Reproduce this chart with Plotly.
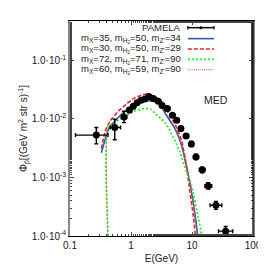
import plotly.graph_objects as go

# PAMELA antiproton data
pam_E = [0.270, 0.542, 0.767, 0.94, 1.09, 1.26, 1.46, 1.69, 1.96, 2.31, 2.80, 3.24, 3.94,
         4.78, 5.62, 6.58, 7.99, 9.75, 11.6, 14.7, 18.4, 24.7, 35.6]
pam_E_lo = [0.123, 0.456, 0.70, 0.87, 1.02, 1.18, 1.37, 1.58, 1.83, 2.15, 2.60, 3.02, 3.64,
            4.40, 5.20, 6.10, 7.30, 8.90, 10.6, 13.2, 16.3, 19.8, 27.2]
pam_E_hi = [0.419, 0.675, 0.85, 1.02, 1.18, 1.37, 1.58, 1.83, 2.15, 2.50, 3.02, 3.50, 4.30,
            5.20, 6.10, 7.10, 8.80, 10.6, 12.8, 16.3, 21.0, 30.8, 46.6]
pam_flux = [5.28e-3, 7.10e-3, 1.07e-2, 1.41e-2, 1.64e-2, 1.88e-2, 2.07e-2, 2.19e-2, 2.41e-2,
            2.23e-2, 1.99e-2, 1.69e-2, 1.50e-2, 1.15e-2, 9.44e-3, 6.82e-3, 5.09e-3, 3.73e-3,
            2.24e-3, 1.35e-3, 7.17e-4, 3.35e-4, 1.21e-4]
pam_flux_hi = [7.10e-3, 9.82e-3, 1.35e-2, 1.55e-2, 1.78e-2, 2.02e-2, 2.22e-2, 2.35e-2, 2.58e-2,
               2.39e-2, 2.13e-2, 1.81e-2, 1.61e-2, 1.24e-2, 1.02e-2, 7.40e-3, 5.55e-3, 4.10e-3,
               2.48e-3, 1.50e-3, 8.10e-4, 3.90e-4, 1.45e-4]
pam_flux_lo = [3.73e-3, 4.40e-3, 8.60e-3, 1.28e-2, 1.50e-2, 1.74e-2, 1.92e-2, 2.03e-2, 2.24e-2,
               2.07e-2, 1.85e-2, 1.57e-2, 1.39e-2, 1.06e-2, 8.70e-3, 6.25e-3, 4.65e-3, 3.38e-3,
               2.02e-3, 1.20e-3, 6.30e-4, 2.85e-4, 1.00e-4]

# model curves
blue_E = [0.327, 0.379, 0.430, 0.547, 0.745, 1.08, 1.55, 1.98, 2.86, 3.66, 5.28, 6.75, 8.60, 9.39, 11.4, 12.4]
blue_F = [2.64e-3, 4.53e-3, 6.67e-3, 9.18e-3, 1.26e-2, 1.69e-2, 2.04e-2, 2.04e-2, 1.86e-2, 1.23e-2,
          6.75e-3, 3.50e-3, 1.17e-3, 7.44e-4, 2.06e-4, 1.0e-4]
red_E = [0.327, 0.379, 0.456, 0.621, 0.841, 1.14, 1.55, 1.89, 2.53, 3.04, 3.66, 5.28, 6.75, 8.11, 8.93, 10.6, 11.4]
red_F = [3.11e-3, 6.23e-3, 9.18e-3, 1.35e-2, 1.79e-2, 2.26e-2, 2.58e-2, 2.65e-2, 2.37e-2, 2.12e-2,
         1.53e-2, 8.09e-3, 4.25e-3, 1.61e-3, 7.44e-4, 2.06e-4, 1.0e-4]
green_E = [0.419, 0.419, 0.547, 0.790, 1.14, 1.65, 2.11, 2.53, 3.66, 4.96, 6.34, 8.11, 9.75, 12.7, 14.5]
green_F = [1.0e-4, 7.28e-3, 8.61e-3, 1.11e-2, 1.35e-2, 1.49e-2, 1.46e-2, 1.21e-2, 8.51e-3, 4.82e-3,
           2.70e-3, 1.25e-3, 7.44e-4, 2.06e-4, 1.0e-4]
brown_E = [0.419, 0.419, 0.547, 0.745, 1.08, 1.55, 1.98, 2.86, 3.66, 5.28, 6.75, 8.60, 9.39, 11.2, 12.1]
brown_F = [1.0e-4, 6.9e-3, 9.5e-3, 1.3e-2, 1.75e-2, 2.1e-2, 2.1e-2, 1.9e-2, 1.3e-2, 7.0e-3, 3.6e-3,
           1.15e-3, 7.2e-4, 2.06e-4, 1.0e-4]

labels = ["PAMELA",
          "m<sub>X</sub>=35, m<sub>H<sub>2</sub></sub>=50, m<sub>Z'</sub>=34",
          "m<sub>X</sub>=30, m<sub>H<sub>2</sub></sub>=50, m<sub>Z'</sub>=29",
          "m<sub>X</sub>=72, m<sub>H<sub>2</sub></sub>=71, m<sub>Z'</sub>=90",
          "m<sub>X</sub>=60, m<sub>H<sub>2</sub></sub>=59, m<sub>Z'</sub>=90"]
y_tickvals = [1e-4, 1e-3, 1e-2, 1e-1]
y_ticktext = ["1.0·10<sup>-4</sup>", "1.0·10<sup>-3</sup>", "1.0·10<sup>-2</sup>", "1.0·10<sup>-1</sup>"]
x_tickvals = [0.1, 1, 10, 100]
x_ticktext = ["0.1", "1", "10", "100"]

styles = [
    dict(color="#1f5fb0", width=1.6, dash="solid"),
    dict(color="#e8202a", width=1.6, dash="4px,2px"),
    dict(color="#22ee22", width=1.8, dash="2px,2px"),
    dict(color="#d85a5a", width=1.0, dash="1px,1px"),
]

fig = go.Figure()
curves = [(blue_E, blue_F), (red_E, red_F), (green_E, green_F), (brown_E, brown_F)]
for (ex, fy), st, lab in zip(curves, styles, labels[1:]):
    fig.add_trace(go.Scatter(x=ex, y=fy, mode="lines", line=dict(shape="spline", smoothing=0.6, **st),
                             name=lab, showlegend=False))

fig.add_trace(go.Scatter(
    x=pam_E, y=pam_flux, mode="markers", name="PAMELA", showlegend=False,
    marker=dict(color="black", size=7),
    error_x=dict(type="data", symmetric=False,
                 array=[h - e for h, e in zip(pam_E_hi, pam_E)],
                 arrayminus=[e - l for e, l in zip(pam_E, pam_E_lo)],
                 color="black", thickness=1.4, width=2),
    error_y=dict(type="data", symmetric=False,
                 array=[h - f for h, f in zip(pam_flux_hi, pam_flux)],
                 arrayminus=[f - l for f, l in zip(pam_flux, pam_flux_lo)],
                 color="black", thickness=1.4, width=2),
))

# manual legend (text right-aligned, sample on the right)
font = dict(family="Liberation Sans, Arial, sans-serif", size=10, color="#222")
lfont = dict(family="Liberation Sans, Arial, sans-serif", size=9.5, color="#222")
rows = [0.969, 0.918, 0.870, 0.822, 0.773]
x_txt, x0, x1 = 0.617, 0.644, 0.787
for i, (lab, yy) in enumerate(zip(labels, rows)):
    fig.add_annotation(x=x_txt, y=yy, xref="paper", yref="paper", text=lab, showarrow=False,
                       xanchor="right", yanchor="middle", font=lfont)
    if i == 0:
        fig.add_shape(type="line", xref="paper", yref="paper", x0=x0, x1=x1, y0=yy, y1=yy,
                      line=dict(color="black", width=1.5))
        for xx in (x0, x1):
            fig.add_shape(type="line", xref="paper", yref="paper", x0=xx, x1=xx, y0=yy - 0.008, y1=yy + 0.008,
                          line=dict(color="black", width=1.2))
        fig.add_shape(type="circle", xref="paper", yref="paper", x0=(x0 + x1) / 2 - 0.008, x1=(x0 + x1) / 2 + 0.008,
                      y0=yy - 0.007, y1=yy + 0.007, fillcolor="black", line=dict(color="black", width=0))
    else:
        st = styles[i - 1]
        fig.add_shape(type="line", xref="paper", yref="paper", x0=x0, x1=x1, y0=yy, y1=yy,
                      line=dict(color=st["color"], width=st["width"], dash=st["dash"]))

fig.add_annotation(x=0.872, y=0.671, xref="paper", yref="paper", text="MED", showarrow=False,
                   font=dict(family="Liberation Sans, Arial, sans-serif", size=10.5, color="#222"))
# black right frame edge
fig.add_shape(type="line", xref="paper", yref="paper", x0=1, x1=1, y0=0, y1=1, line=dict(color="black", width=1.2))

fig.update_xaxes(type="log", range=[-1, 2], tickvals=x_tickvals, ticktext=x_ticktext,
                 ticks="inside", ticklen=4, showline=True, linecolor="black", linewidth=1.2, mirror="ticks",
                 showgrid=False, zeroline=False,
                 minor=dict(ticks="inside", ticklen=2, tickcolor="#444", showgrid=False),
                 tickfont=font, title=dict(text="E(GeV)", font=font, standoff=4))
fig.update_yaxes(type="log", range=[-4, -0.33], tickvals=y_tickvals, ticktext=y_ticktext,
                 ticks="inside", ticklen=4, showline=True, linecolor="#888", linewidth=1.5, mirror="ticks",
                 showgrid=False, zeroline=False,
                 minor=dict(ticks="inside", ticklen=2, tickcolor="#444", showgrid=False),
                 tickfont=font,
                 title=dict(text="Φ<sub>p̄</sub>[(GeV m<sup>2</sup> str s)<sup>-1</sup>]", font=font, standoff=2))
fig.update_layout(width=266, height=266, margin=dict(l=62, r=16, t=13, b=34),
                  plot_bgcolor="white", paper_bgcolor="white", showlegend=False)
fig.write_html("out.html")
